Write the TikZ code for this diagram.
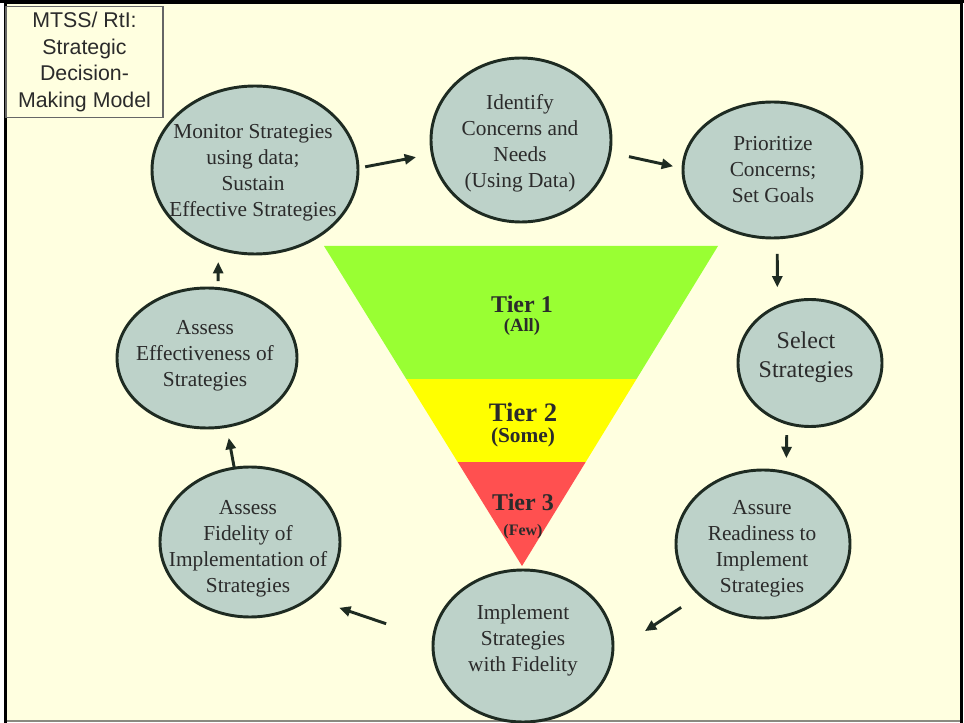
\documentclass[tikz,border=0pt]{standalone}
\usepackage{fontspec}
\setmainfont{Liberation Serif}
\newfontfamily\sansf{Liberation Sans}
\usetikzlibrary{arrows.meta,shapes.geometric}
\definecolor{cream}{HTML}{FFFFE0}
\definecolor{ellfill}{HTML}{BDD2C9}
\definecolor{edgec}{HTML}{1E2B22}
\definecolor{txtc}{HTML}{2B2B2B}
\definecolor{tiergreen}{HTML}{99FF33}
\definecolor{tieryellow}{HTML}{FFFF00}
\definecolor{tierred}{HTML}{FF5050}
\definecolor{framegray}{HTML}{8A8A80}
\begin{document}
\begin{tikzpicture}[x=0.75pt,y=-0.75pt,
  stage/.style={ellipse, draw=edgec, line width=2.2pt, fill=ellfill, inner sep=0pt, outer sep=0pt},
  stagetext/.style={align=center, text=txtc, font=\fontsize{16}{19.5}\selectfont, inner sep=0pt},
  arr/.style={draw=edgec, line width=2.2pt, -{Triangle[length=8.5pt,width=7.5pt]}},
  tiertext/.style={text=txtc, inner sep=0pt, font=\bfseries\fontsize{#1}{#1}\selectfont}
]
\useasboundingbox (0,0) rectangle (964,723);
% background and frame
\fill[white] (0,0) rectangle (964,723);
\fill[cream] (5,2) rectangle (961,721);
\draw[framegray, line width=1.5pt] (5,721) -- (961,721);
\draw[black, line width=2.4pt] (5.5,723) -- (5.5,2.5) -- (961.5,2.5) -- (961.5,723);
\draw[black, line width=2.4pt] (0,1.5) -- (964,1.5);

% title box
\node[draw=black!60, line width=0.8pt, fill=cream, rectangle, inner sep=0pt,
      minimum width=117.75pt, minimum height=83.25pt, align=center, text=txtc,
      font=\sansf\fontsize{16}{20}\selectfont] (title) at (84.5,62)
      {MTSS/ RtI:\\Strategic\\Decision-\\Making Model};

% triangle of tiers
\begin{scope}
  \clip (324,246) -- (718,246) -- (522,566) -- cycle;
  \fill[tiergreen] (300,240) rectangle (740,379);
  \fill[tieryellow] (300,379) rectangle (740,462);
  \fill[tierred] (300,462) rectangle (740,570);
\end{scope}
\node[tiertext=18] (t1) at (522,304.5) {Tier 1};
\node[tiertext=14] (t1s) at (522,327) {(All)};
\node[tiertext=20] (t2) at (523,412) {Tier 2};
\node[tiertext=16] (t2s) at (523,437) {(Some)};
\node[tiertext=18] (t3) at (523,502) {Tier 3};
\node[tiertext=12] (t3s) at (523,532) {(Few)};

% stages
\node[stage, minimum width=154.5pt, minimum height=126pt] (mon) at (255,170) {};
\node[stagetext] (monT) at (253,173) {Monitor Strategies\\using data;\\Sustain\\Effective Strategies};
\node[stage, minimum width=135pt, minimum height=123pt] (ide) at (521,140) {};
\node[stagetext] (ideT) at (520,143) {Identify\\Concerns and\\Needs\\(Using Data)};
\node[stage, minimum width=134.25pt, minimum height=102pt] (pri) at (772.5,170) {};
\node[stagetext] (priT) at (773,169.5) {Prioritize\\Concerns;\\Set Goals};
\node[stage, minimum width=108pt, minimum height=95.25pt] (sel) at (810,363) {};
\node[stagetext, font=\fontsize{18}{21.75}\selectfont] (selT) at (806,357) {Select\\Strategies};
\node[stage, minimum width=130.5pt, minimum height=111pt] (asr) at (763,544) {};
\node[stagetext] (asrT) at (762,549) {Assure\\Readiness to\\Implement\\Strategies};
\node[stage, minimum width=135pt, minimum height=114pt] (imp) at (523,646) {};
\node[stagetext] (impT) at (523,640) {Implement\\Strategies\\with Fidelity};
\node[stage, minimum width=135pt, minimum height=112.5pt] (fid) at (250,542) {};
\node[stagetext] (fidT) at (248,549) {Assess\\Fidelity of\\Implementation of\\Strategies};
\node[stage, minimum width=135pt, minimum height=105pt] (eff) at (207,358) {};
\node[stagetext] (effT) at (205,356) {Assess\\Effectiveness of\\Strategies};

% arrows
\draw[arr, shorten <=5.5pt, shorten >=12.45pt] (mon.1.5) -- (ide.189);
\draw[arr, shorten <=14.6pt, shorten >=7.65pt] (ide.-8.8) -- (pri.179.2);
\draw[arr, shorten <=12pt, shorten >=14.25pt] (pri.-86.6) -- (sel.120.5);
\draw[arr, shorten <=9pt, shorten >=10.95pt] (sel.249.4) -- (asr.72.6);
\draw[arr, shorten <=16.9pt, shorten >=28.95pt] (asr.219.8) -- (imp.-4.5);
\draw[arr, shorten <=37.35pt, shorten >=23.1pt] (imp.176.2) -- (fid.-43.2);
\draw[arr, shorten <=0pt, shorten >=8.85pt] (fid.102.2) -- (eff.-74.8);
\draw[arr, shorten <=5.6pt, shorten >=10.2pt] (eff.81) -- (mon.-115.3);
\end{tikzpicture}
\end{document}
